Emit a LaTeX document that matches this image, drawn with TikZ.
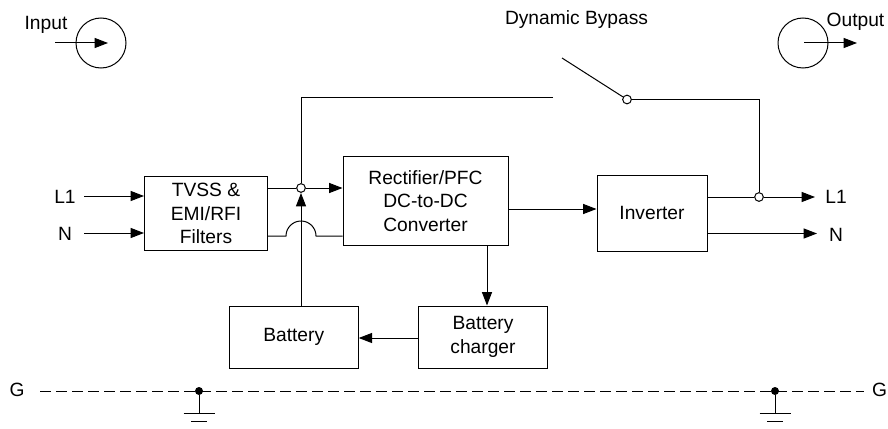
\documentclass[tikz,border=0pt]{standalone}
\usepackage{fontspec}
\setmainfont{Liberation Sans}
\usetikzlibrary{arrows.meta}
\tikzset{
  wire/.style={line width=0.75pt},
  feed/.style={wire,-{Triangle[length=10pt,width=7.5pt]}},
  block/.style={draw,line width=0.75pt,align=center,inner sep=0pt},
  tag/.style={inner sep=0pt,font=\fontsize{14.4}{17.6}\selectfont},
  joint/.style={circle,draw,fill=white,line width=0.75pt,inner sep=0pt,minimum size=6.5pt},
  dot/.style={circle,fill=black,inner sep=0pt,minimum size=6pt},
}
\begin{document}
\begin{tikzpicture}[x=0.75pt,y=-0.75pt]
\useasboundingbox (0,0) rectangle (888,428);
\tikzset{every node/.append style={font=\fontsize{14.4}{17.6}\selectfont}}
%Blocks
\node[block,minimum width=92.25pt,minimum height=55pt] (filters) at (206,213.5) {TVSS \&\\EMI/RFI\\Filters};
\node[block,minimum width=123.75pt,minimum height=66.75pt] (rectifier) at (425.5,201) {Rectifier/PFC\\DC-to-DC\\Converter};
\node[block,minimum width=82.5pt,minimum height=57pt] (inverter) at (652,213) {Inverter};
\node[block,minimum width=96.75pt,minimum height=46.5pt] (battery) at (293.7,337) {Battery};
\node[block,minimum width=96.25pt,minimum height=46.5pt] (charger) at (483,337) {Battery\\charger};
%Symbols
\draw[wire] (101,43) circle (25);
\draw[wire] (803,43) circle (25);
\coordinate (inA) at (55,43);
\coordinate (inB) at (108,43);
\coordinate (outA) at (804,43);
\coordinate (outB) at (857,43);
\draw[feed] (inA) -- (inB);
\draw[feed] (outA) -- (outB);
%Bypass
\node[joint] (swJoint) at (627,99.5) {};
\node[joint] (inJoint) at (301,188) {};
\node[joint] (outJoint) at (759,197) {};
\coordinate (swEnd) at (562,58);
\coordinate (byA) at (553,97);
\coordinate (byB) at (301,97);
\coordinate (byC) at (759,99.5);
\draw[wire] (swEnd) -- (swJoint);
\draw[wire] (byA) -- (byB) -- (inJoint);
\draw[wire] (swJoint) -- (byC) -- (outJoint);
%Power path
\node[tag] (inL) at (65,196.5) {L1};
\node[tag] (inN) at (65,233.5) {N};
\node[tag] (outL) at (836,197) {L1};
\node[tag] (outN) at (836,234.5) {N};
\coordinate (lA) at (84,196);
\coordinate (nA) at (84,233);
\coordinate (outLend) at (815,197);
\coordinate (outNend) at (817,233.5);
\draw[feed] (lA) -- (lA -| filters.west);
\draw[feed] (nA) -- (nA -| filters.west);
\draw[wire] (inJoint -| filters.east) -- (inJoint);
\draw[feed] (inJoint) -- (inJoint -| rectifier.west);
\coordinate (humpA) at (286,236);
\coordinate (humpB) at (316,236);
\draw[wire] (humpA -| filters.east) -- (humpA) arc (180:360:15) -- (humpB -| rectifier.west);
\coordinate (recLevel) at (0,209);
\draw[feed] (recLevel -| rectifier.east) -- (recLevel -| inverter.west);
\draw[wire] (outJoint -| inverter.east) -- (outJoint);
\draw[feed] (outJoint) -- (outLend);
\draw[feed] (outNend -| inverter.east) -- (outNend);
%Battery
\coordinate (chgIn) at (487,245);
\draw[feed] (chgIn) -- (chgIn |- charger.north);
\coordinate (chgLevel) at (0,338);
\draw[feed] (chgLevel -| charger.west) -- (chgLevel -| battery.east);
\coordinate (batTop) at (301,193);
\draw[feed] (battery.north -| batTop) -- (batTop);
%Ground
\node[tag] (gLeft) at (17,390) {G};
\node[tag] (gRight) at (879.5,390) {G};
\coordinate (gA) at (40,391);
\coordinate (gB) at (864,391);
\draw[wire,dash pattern=on 8.25pt off 3.75pt] (gA) -- (gB);
\node[dot] (gndA) at (199,391) {};
\node[dot] (gndB) at (775,391) {};
\foreach \g in {gndA,gndB}{
  \draw[wire] (\g) -- ++(0,22);
  \draw[wire] (\g) ++(-15.5,22) -- ++(31,0);
  \draw[wire] (\g) ++(-8,30) -- ++(16,0);
}
%Text
\node[tag] (inText) at (46,25) {Input};
\node[tag] (outText) at (855.5,22) {Output};
\node[tag] (byText) at (576.5,20) {Dynamic Bypass};
\end{tikzpicture}
\end{document}
